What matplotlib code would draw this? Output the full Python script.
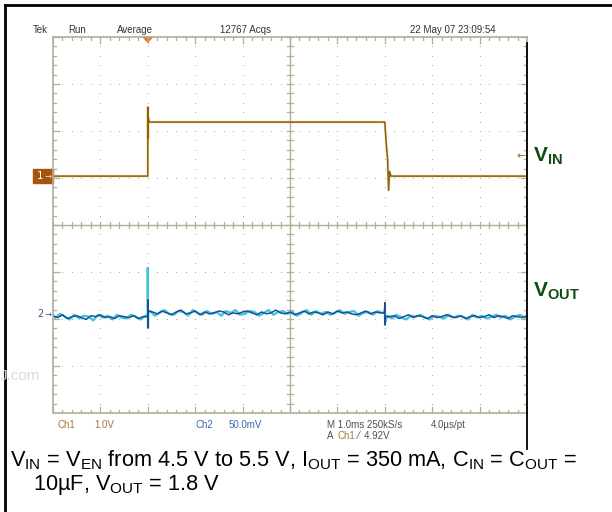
import numpy as np
import matplotlib.pyplot as plt
from matplotlib.patches import Rectangle, Polygon
from matplotlib.lines import Line2D

plt.rcParams['mathtext.fontset'] = 'custom'
plt.rcParams['mathtext.rm'] = 'Liberation Sans'
plt.rcParams['mathtext.bf'] = 'Liberation Sans:bold'

# =========================
# DONNÉES (lues sur l'écran)
# =========================
# échelles de l'oscilloscope
ch1_scale = 1.0      # V/div
ch2_scale = 50.0     # mV/div
ch1_pos = 1.04       # div, niveau 4.5 V
ch2_pos = -1.89      # div, marqueur "2"
trig_time = 2.0      # ms
trig_level = 4.92    # V

# VIN (Ch1), temps en ms, tension en V
vin_t = [0.0, 1.995, 2.0, 2.0, 2.004, 2.01, 2.03, 7.0, 7.03, 7.06, 7.08, 7.10, 7.13, 10.0]
vin_v = [4.5, 4.5, 4.5, 5.97, 5.31, 5.75, 5.65, 5.65, 5.20, 4.85, 4.20, 4.60, 4.5, 4.5]

# VOUT (Ch2), bruit relevé tous les 0.1 ms, en mV autour de 1.8 V
vout_dark = [-2, -4, -1, -5, -3, -2, -4, -6, -2, -3, -1, -4, -3, -5, -2, -3, -4, -2, -5, -3, -3,
             2, 0, 3, 1, -1, 2, 4, 0, 1, 3, -1, 2, 0, 1, 3, 2, -1, 1, 0, 2,
             3, 1, -1, 2, 0, 1, 4, 1, 0, 2, -1, 1, 3, 0, 2, 1, -1, 2, 0, 3,
             1, 2, 0, -1, 1, 3, 0, 2, 1, 0,
             -3, -2, -5, -3, -1, -4, -2, -3, -5, -2, -4, -3, -1, -3, -4, -2, -5, -3, -2, -4,
             -3, -1, -4, -2, -3, -5, -2, -3, -4, -2]
vout_cyan = [-4, 0, -3, -6, -1, -5, -2, -3, -7, -1, -4, -2, -6, -1, -4, -5, -1, -3, -6, -2,
             3, -2, 1, 4, 0, -1, 3, 2, -2, 4, 1, -1, 3, 0, 2, -2, 3, 1, 4, -1,
             0, 3, 2, -2, 1, 4, -1, 2, 3, 0, 2, -2, 1, 4, -1, 3, 0, 2, -1, 1,
             4, 0, 2, 3, -2, 1, 2, -1, 3, 1,
             -2, -5, -1, -4, -6, -2, -3, -1, -4, -6, -2, -3, -5, -1, -4, -2, -3, -6, -1, -4,
             -2, -5, -3, -1, -4, -2, -6, -3, -1, -4]
# pics de commutation
spk_dark_t = [1.995, 2.0, 2.003, 2.008, 6.995, 7.0, 7.004, 7.01]
spk_dark_v = [-3, 15, -15, 3, 1, 12, -12, -3]
spk_cyan_t = [1.998, 2.0, 2.004, 2.01, 6.998, 7.001, 7.005]
spk_cyan_v = [-3, 49, -15, 2, 1, 5, -10]

# textes de l'écran
header = [("Tek", 33), ("Run", 68), ("Average", 117), ("12767 Acqs", 220), ("22 May 07 23:09:54", 410)]

# =========================
# FIGURE
# =========================
W, H = 612, 512
fig = plt.figure(figsize=(W / 100, H / 100), dpi=100)
ax = fig.add_axes([53 / W, 1 - 413 / H, 474 / W, 376 / H])
ax.set_xlim(0, 10)
ax.set_ylim(-4, 4)
ax.set_xticks([])
ax.set_yticks([])
grid_c = '#b2ae9a'
for s in ax.spines.values():
    s.set_color(grid_c)
    s.set_linewidth(1.2)

# points de la grille
for gx in range(1, 10):
    if gx == 5:
        continue
    yy = np.arange(-4, 4.01, 0.2)
    ax.scatter(np.full(len(yy), gx), yy, s=0.6, color='#a0a0a0', lw=0)
for gy in range(-3, 4):
    if gy == 0:
        continue
    xx = np.arange(0, 10.01, 0.2)
    ax.scatter(xx, np.full(len(xx), gy), s=0.6, color='#a0a0a0', lw=0)

# axes centraux et graduations
ax.axvline(5, color=grid_c, lw=1)
ax.axhline(0, color=grid_c, lw=1)
tx, ty = 0.065, 0.065
for xv in np.arange(0, 10.01, 0.2):
    major = abs(xv - round(xv)) < 1e-6
    L = ty * (2 if major else 1)
    ax.plot([xv, xv], [-ty, ty], color=grid_c, lw=0.9)
    ax.plot([xv, xv], [4, 4 - L], color=grid_c, lw=0.9)
    ax.plot([xv, xv], [-4, -4 + L], color=grid_c, lw=0.9)
for yv in np.arange(-4, 4.01, 0.2):
    major = abs(yv - round(yv)) < 1e-6
    L = tx * (2 if major else 1)
    ax.plot([5 - tx, 5 + tx], [yv, yv], color=grid_c, lw=0.9)
    ax.plot([0, L], [yv, yv], color=grid_c, lw=0.9)
    ax.plot([10, 10 - L], [yv, yv], color=grid_c, lw=0.9)

# trace VIN
vin_div = ch1_pos + (np.array(vin_v) - 4.5) / ch1_scale
ax.plot(vin_t, vin_div, color='#e2dc50', lw=2.0, alpha=0.55)
ax.plot(vin_t, vin_div, color='#8c5c20', lw=1.1)

# trace VOUT
t_dark = np.arange(len(vout_dark)) * 0.1
t_cyan = np.arange(len(vout_cyan)) * 0.1 + 0.05
td = np.concatenate([t_dark, spk_dark_t])
vd = np.concatenate([vout_dark, spk_dark_v])
o = np.argsort(td)
tc = np.concatenate([t_cyan, spk_cyan_t])
vc = np.concatenate([vout_cyan, spk_cyan_v])
oc = np.argsort(tc)
ax.plot(tc[oc], ch2_pos + vc[oc] / ch2_scale, color='#3cc4dc', lw=1.6)
ax.plot(td[o], ch2_pos + vd[o] / ch2_scale, color='#1a4e96', lw=1.1)

# marqueurs de voie
ax.add_patch(Rectangle((-0.42, ch1_pos - 0.15), 0.42, 0.30, color='#a4560e', clip_on=False))
ax.text(-0.28, ch1_pos, "1", color='white', fontsize=7.5, ha='center', va='center', clip_on=False)
ax.text(-0.1, ch1_pos, "→", color='#f4e6c8', fontsize=6, ha='center', va='center', clip_on=False)
ax.text(-0.27, ch2_pos, "2", color='#3a5a8a', fontsize=7, ha='center', va='center', clip_on=False)
ax.text(-0.1, ch2_pos, "→", color='#3a5a8a', fontsize=6, ha='center', va='center', clip_on=False)

# niveau de déclenchement
trig_div = ch1_pos + (trig_level - 4.5) / ch1_scale
ax.text(9.87, trig_div, "←", color='#a06a30', fontsize=8, ha='center', va='center')
ax.add_patch(Polygon([[trig_time - 0.1, 4.0], [trig_time + 0.1, 4.0], [trig_time, 3.89]],
                     color='#f07828', clip_on=False))

# =========================
# TEXTES
# =========================
def px(x, y):
    return x / W, 1 - y / H

small = 'Liberation Sans'
for txt, x in header:
    fig.text(*px(x, 30), txt, fontsize=7, color='#333333', va='center', family=small)

fig.text(*px(57, 425), "Ch1", fontsize=7, color='#a07838', va='center', family=small)
fig.text(*px(94, 425), "1.0V", fontsize=7, color='#a07838', va='center', family=small)
fig.text(*px(196, 425), "Ch2", fontsize=7, color='#3a6aa8', va='center', family=small)
fig.text(*px(229, 425), "50.0mV", fontsize=7, color='#3a6aa8', va='center', family=small)
fig.text(*px(327, 425), "M 1.0ms 250kS/s", fontsize=7, color='#505050', va='center', family=small)
fig.text(*px(431, 425), "4.0µs/pt", fontsize=7, color='#505050', va='center', family=small)
fig.text(*px(327, 436), "A", fontsize=7, color='#505050', va='center', family=small)
fig.text(*px(338, 436), "Ch1", fontsize=7, color='#a07838', va='center', family=small)
fig.text(*px(358, 436), "⁄  4.92V", fontsize=7, color='#505050', va='center', family=small)

fig.text(*px(0, 376), "J.com", fontsize=11, color='#dcdcdc', va='center', family='Liberation Sans')

green = '#0b4d12'
fig.text(*px(533, 162), r'$\mathbf{V_{IN}}$', fontsize=15, color=green, va='baseline')
fig.text(*px(533, 297), r'$\mathbf{V_{OUT}}$', fontsize=15, color=green, va='baseline')

cap1 = (r'$\mathrm{V_{IN}}$ = $\mathrm{V_{EN}}$ from 4.5 V to 5.5 V, $\mathrm{I_{OUT}}$ = 350 mA, '
        r'$\mathrm{C_{IN}}$ = $\mathrm{C_{OUT}}$ =')
cap2 = r'10µF, $\mathrm{V_{OUT}}$ = 1.8 V'
fig.text(*px(10, 466), cap1, fontsize=15.7, color='black', va='baseline', family='Liberation Sans')
fig.text(*px(33, 490), cap2, fontsize=15.7, color='black', va='baseline', family='Liberation Sans')

# cadre
fig.add_artist(Line2D([5 / W, 1], [1 - 5 / H, 1 - 5 / H], color='black', lw=2))
fig.add_artist(Line2D([5 / W, 5 / W], [0, 1 - 5 / H], color='black', lw=2))
fig.add_artist(Line2D([527 / W, 527 / W], [1 - 43 / H, 1 - 449 / H], color='black', lw=1.3))

fig.savefig('out.png', dpi=100)
